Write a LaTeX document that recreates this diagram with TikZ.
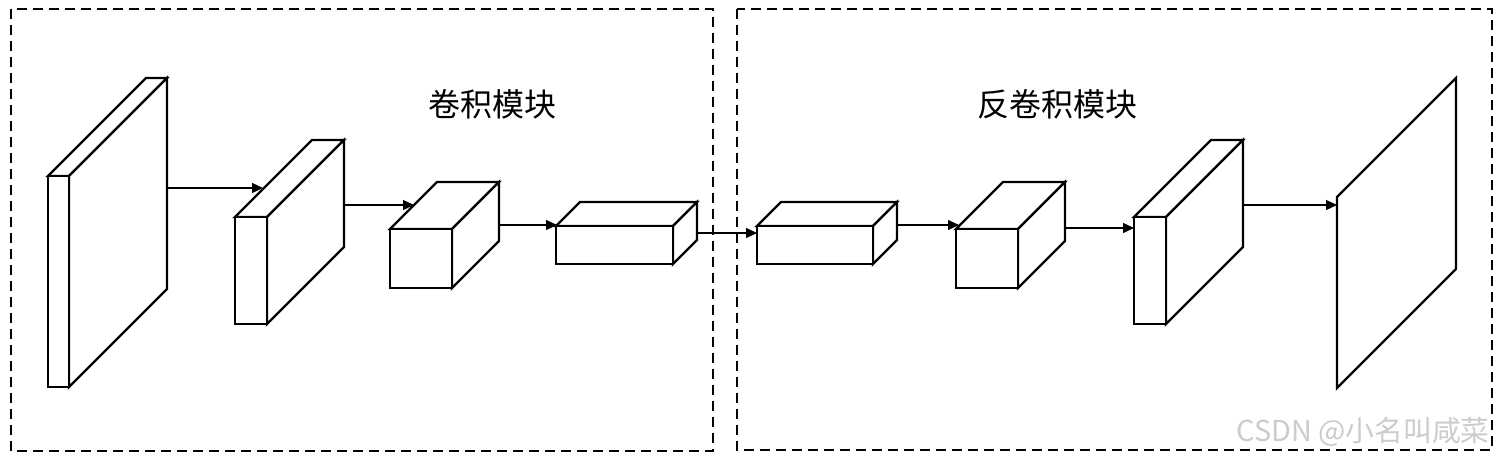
\documentclass[tikz,border=0pt]{standalone}
\usepackage{fontspec}
\newfontfamily\cjk{Noto Sans CJK SC}
\usetikzlibrary{arrows.meta}
\tikzset{
  blockline/.style={draw=black,line width=1.2pt,line join=miter,fill=white},
  modulebox/.style={draw=black,line width=1.2pt,dash pattern=on 5pt off 3pt},
  flow/.style={draw=black,line width=0.6pt,-{Triangle[length=5.5pt,width=5pt]}},
  title/.style={font=\cjk\fontsize{16pt}{16pt}\selectfont,inner sep=0pt},
  watermark/.style={font=\cjk\fontsize{14.4pt}{14.4pt}\selectfont,text=black!20,inner sep=0pt}
}
% cuboid: front top-left (#1,#2), width #3, height #4, depth #5
\newcommand\mycuboid[5]{%
  \path[blockline] (#1,#2) -- ++(#3,0) -- ++(#5,-#5) -- ++(-#3,0) -- cycle;
  \path[blockline] (#1+#3,#2) -- ++(#5,-#5) -- ++(0,#4) -- ++(-#5,#5) -- cycle;
  \path[blockline] (#1,#2) rectangle ++(#3,#4);
}
\begin{document}
\begin{tikzpicture}[x=0.5pt,y=-0.5pt]
\useasboundingbox (0,0) rectangle (1500,457);
\fill[white] (0,0) rectangle (1500,457);
% module boxes
\draw[modulebox] (11,9) rectangle (713,451);
\draw[modulebox] (737,9) rectangle (1492,450);
% titles
\node[title] (t1) at (492,104) {卷积模块};
\node[title] (t2) at (1057,104) {反卷积模块};
% blocks
\mycuboid{48}{176}{21}{211}{98}
\mycuboid{235}{217}{32}{107}{77}
\mycuboid{390}{229}{62}{59}{47}
\mycuboid{556}{226}{117}{38}{24}
\mycuboid{757}{226}{116}{38}{24}
\mycuboid{956}{229}{62}{59}{47}
\mycuboid{1134}{217}{32}{107}{77}
\path[blockline] (1337,197) -- (1456,78) -- (1456,269) -- (1337,388) -- cycle;
% connector end points
\coordinate (o1) at (167,188); \coordinate (i2) at (263,188);
\coordinate (o2) at (344,205); \coordinate (i3) at (414,205);
\coordinate (o3) at (499,225); \coordinate (i4) at (557,225);
\coordinate (o4) at (697,233); \coordinate (i5) at (757,233);
\coordinate (o5) at (897,225); \coordinate (i6) at (959,225);
\coordinate (o6) at (1065,228); \coordinate (i7) at (1134,228);
\coordinate (o7) at (1244,205); \coordinate (i8) at (1337,205);
\draw[flow] (o1) -- (i2);
\draw[flow] (o2) -- (i3);
\draw[flow] (o3) -- (i4);
\draw[flow] (o4) -- (i5);
\draw[flow] (o5) -- (i6);
\draw[flow] (o6) -- (i7);
\draw[flow] (o7) -- (i8);
% watermark
\node[watermark,anchor=east] (wm) at (1490,432) {CSDN @小名叫咸菜};
\end{tikzpicture}
\end{document}
